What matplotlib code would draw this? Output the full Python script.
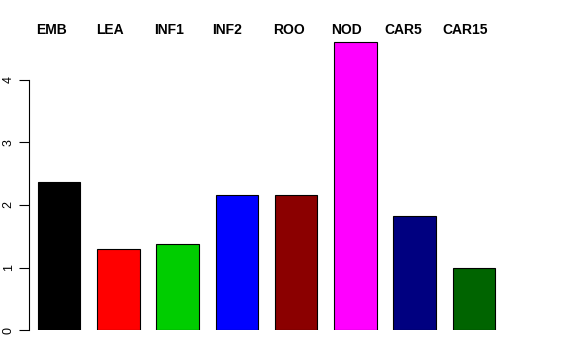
import matplotlib
matplotlib.use("Agg")
import matplotlib.pyplot as plt

categories = ["EMB", "LEA", "INF1", "INF2", "ROO", "NOD", "CAR5", "CAR15"]
values = [2.36, 1.30, 1.37, 2.16, 2.16, 4.60, 1.82, 1.00]
colors = ["#000000", "#FF0000", "#00CD00", "#0000FF", "#8B0000",
          "#FF00FF", "#000080", "#006400"]
yticks = [0, 1, 2, 3, 4]

plt.rcParams['font.family'] = ['Liberation Sans', 'DejaVu Sans']

W, H = 576, 360
fig = plt.figure(figsize=(W / 100, H / 100), dpi=100)

# axes placed in pixel units, like R's plot region
left_px, right_px = 28.7, 504.3
bottom_px, top_px = 330, 20
ax = fig.add_axes([left_px / W, (H - bottom_px) / H,
                   (right_px - left_px) / W, (bottom_px - top_px) / H])

# R barplot style: width 1, space 0.4
pos = [0.4 + i * 1.4 + 0.5 for i in range(len(values))]
ax.bar(pos, values, width=1.0, color=colors, edgecolor="black", linewidth=0.8)

ax.set_xlim(0.18, 11.42)
ax.set_ylim(0, (bottom_px - top_px) / 62.5)

for s in ["top", "right", "bottom"]:
    ax.spines[s].set_visible(False)
ax.spines["left"].set_bounds(0, 4)
ax.spines["left"].set_linewidth(0.8)
ax.set_xticks([])
ax.set_yticks(yticks)
ax.set_yticklabels([str(t) for t in yticks], rotation=90, va="center", fontsize=9)
ax.tick_params(axis="y", length=7, width=0.8, pad=3)

# labels along the top (placed by hand in the original)
label_px = [51.7, 110, 168.7, 226.7, 288.8, 347, 403, 465.5]
for lab, px in zip(categories, label_px):
    fig.text(px / W, (H - 29.5) / H, lab, ha="center", va="center",
             fontsize=10, fontweight="bold")

fig.savefig("out.png", dpi=100)
